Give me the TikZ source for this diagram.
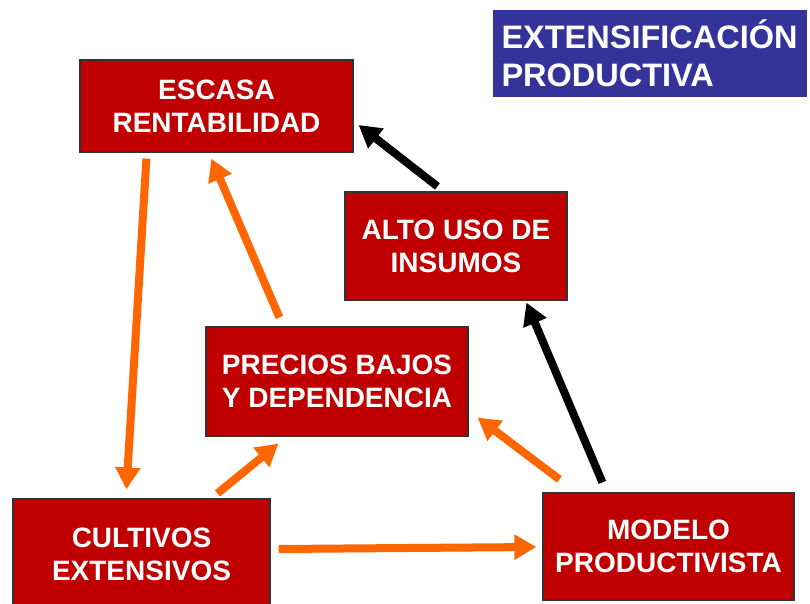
\documentclass[tikz,border=0pt]{standalone}
\usepackage{fontspec}
\setmainfont{Liberation Sans}
\usetikzlibrary{arrows.meta,calc}
\definecolor{rojo}{HTML}{C00000}
\definecolor{azul}{HTML}{333399}
\definecolor{naranja}{HTML}{FF6600}
\begin{document}
\begin{tikzpicture}[x=1pt,y=1pt,
  caja/.style={draw=black!80,line width=1.2pt,fill=rojo,text=white,
    font=\fontsize{28}{33}\selectfont\bfseries,align=center,inner sep=0pt},
  flecha/.style={line width=8pt,-{Triangle[length=22pt,width=24pt]}},
  ]
\useasboundingbox (0,0) rectangle (810,603);
% title
\node[fill=azul,text=white,minimum width=314pt,minimum height=87pt,
  font=\fontsize{32.5}{38}\selectfont\bfseries,align=left,inner sep=0pt,
  text width=297pt] (ttl) at (650,549.5) {EXTENSIFICACIÓN\\PRODUCTIVA};
% boxes
%-----------------------------------------------------------%
\node[caja,minimum width=273pt,minimum height=92pt] (esc) at (216.5,497)
  {ESCASA\\RENTABILIDAD};
\node[caja,minimum width=222pt,minimum height=108pt] (alto) at (456,357)
  {ALTO USO DE\\INSUMOS};
\node[caja,minimum width=262pt,minimum height=109pt] (prec) at (337,221.5)
  {PRECIOS BAJOS\\Y DEPENDENCIA};
\node[caja,minimum width=257pt,minimum height=110pt] (cult) at (141.5,49)
  {CULTIVOS\\EXTENSIVOS};
\node[caja,minimum width=251pt,minimum height=107pt] (mod) at (668.5,56.5)
  {MODELO\\PRODUCTIVISTA};
%-----------------------------------------------------------%
% orange arrows
\draw[flecha,naranja] ([shift={(67,-6)}]esc.south west) -- ([shift={(114,9)}]cult.north west);
\draw[flecha,naranja] ([shift={(74,9)}]prec.north west) -- ([shift={(132,-6)}]esc.south west);
\draw[flecha,naranja] ([shift={(205,5)}]cult.north west) -- ([shift={(73,-7)}]prec.south west);
\draw[flecha,naranja] ([shift={(17,13)}]mod.north west) -- ([shift={(9,19)}]prec.south east);
\draw[flecha,naranja] ([shift={(8,5)}]cult.east) -- ([shift={(-6,-0.5)}]mod.west);
% black arrows
\draw[flecha,black] ([shift={(93,5)}]alto.north west) -- ([shift={(5,-19)}]esc.east);
\draw[flecha,black] ([shift={(60,10)}]mod.north west) -- ([shift={(182,-2)}]alto.south west);
\end{tikzpicture}
\end{document}
